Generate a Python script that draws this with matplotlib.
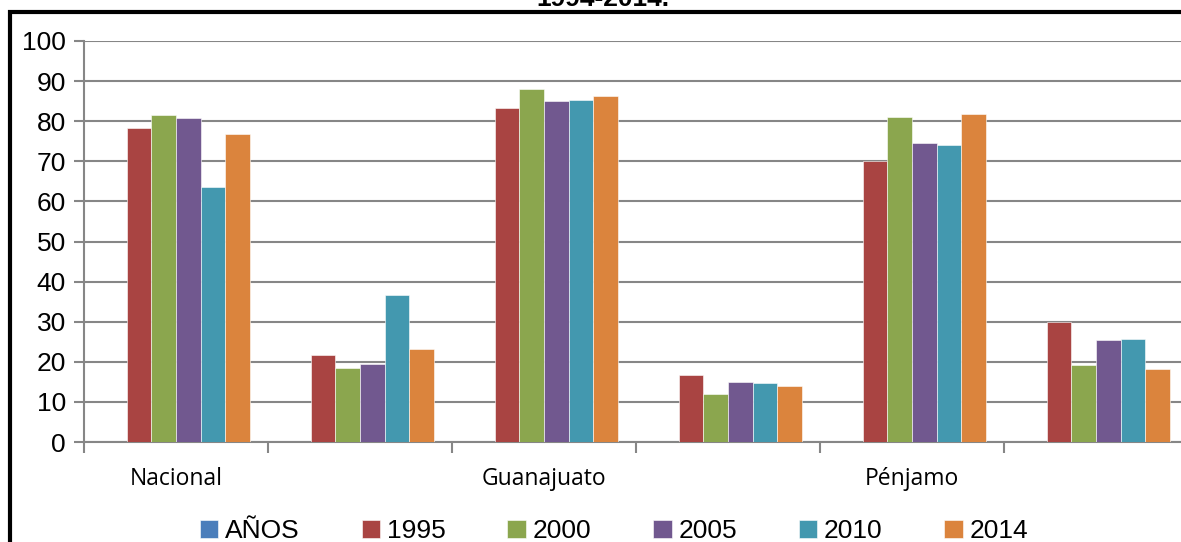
import matplotlib.pyplot as plt
import numpy as np
from matplotlib.patches import Rectangle

# data
categorias = ["Nacional", "", "Guanajuato", "", "Pénjamo", ""]
series = ["AÑOS", "1995", "2000", "2005", "2010", "2014"]
anos = [0, 0, 0, 0, 0, 0]
v1995 = [78.3, 21.7, 83.3, 16.7, 70.1, 29.9]
v2000 = [81.5, 18.5, 88.0, 12.0, 81.0, 19.2]
v2005 = [80.8, 19.5, 85.0, 15.0, 74.6, 25.4]
v2010 = [63.6, 36.7, 85.3, 14.7, 74.1, 25.7]
v2014 = [76.8, 23.2, 86.3, 14.0, 81.8, 18.2]
colores = ["#4A7EBB", "#A94442", "#8BA64E", "#71588F", "#4398AF", "#DB843D"]

valores = [anos, v1995, v2000, v2005, v2010, v2014]

fig = plt.figure(figsize=(11.81, 5.42), dpi=100)
ax = fig.add_axes([84/1181, 1-442/542, 1104/1181, 401/542])

x = np.arange(len(categorias))
w = 1/7.5
for i in range(len(series)):
    ax.bar(x + (i-2.5)*w, valores[i], w, color=colores[i], label=series[i],
           edgecolor="white", linewidth=0.4, zorder=3)

ax.set_xlim(-0.5, 5.5)
ax.set_ylim(0, 100)
ax.set_yticks(np.arange(0, 101, 10))
ax.yaxis.grid(True, color="#868686", linewidth=1.5, zorder=0)
for s in ["top", "right"]:
    ax.spines[s].set_visible(False)
ax.spines["left"].set_color("#868686")
ax.spines["bottom"].set_color("#868686")
ax.spines["left"].set_linewidth(1.5)
ax.spines["bottom"].set_linewidth(1.5)

ax.set_xticks(np.arange(-0.5, 6, 1))
ax.set_xticklabels([])
ax.set_xticks(x, minor=True)
ax.set_xticklabels(categorias, minor=True, family="Open Sans", fontsize=16.5)
ax.tick_params(axis="x", which="major", length=8, width=1.5, color="#868686")
ax.tick_params(axis="x", which="minor", length=0, pad=18)
ax.tick_params(axis="y", length=7, width=1.5, color="#868686", labelsize=19, pad=6)
for t in ax.get_yticklabels():
    t.set_family("Liberation Sans")

fig.legend(loc="center", bbox_to_anchor=(614/1181, 11/542), ncol=6, frameon=False,
           prop={"family": "Liberation Sans", "size": 19}, handlelength=0.7,
           handleheight=0.7, handletextpad=0.25, columnspacing=2.35)

# marco negro y titulo cortado
fig.patches.append(Rectangle((10/1181, -0.1), 1.1, 1.1 - 12/542, transform=fig.transFigure,
                             fill=False, edgecolor="black", linewidth=3))
fig.text(603/1181, 1-6/542, "1994-2014.", ha="center", va="baseline",
         family="Liberation Sans", fontweight="bold", fontsize=19)

fig.savefig("out.png", dpi=100)
